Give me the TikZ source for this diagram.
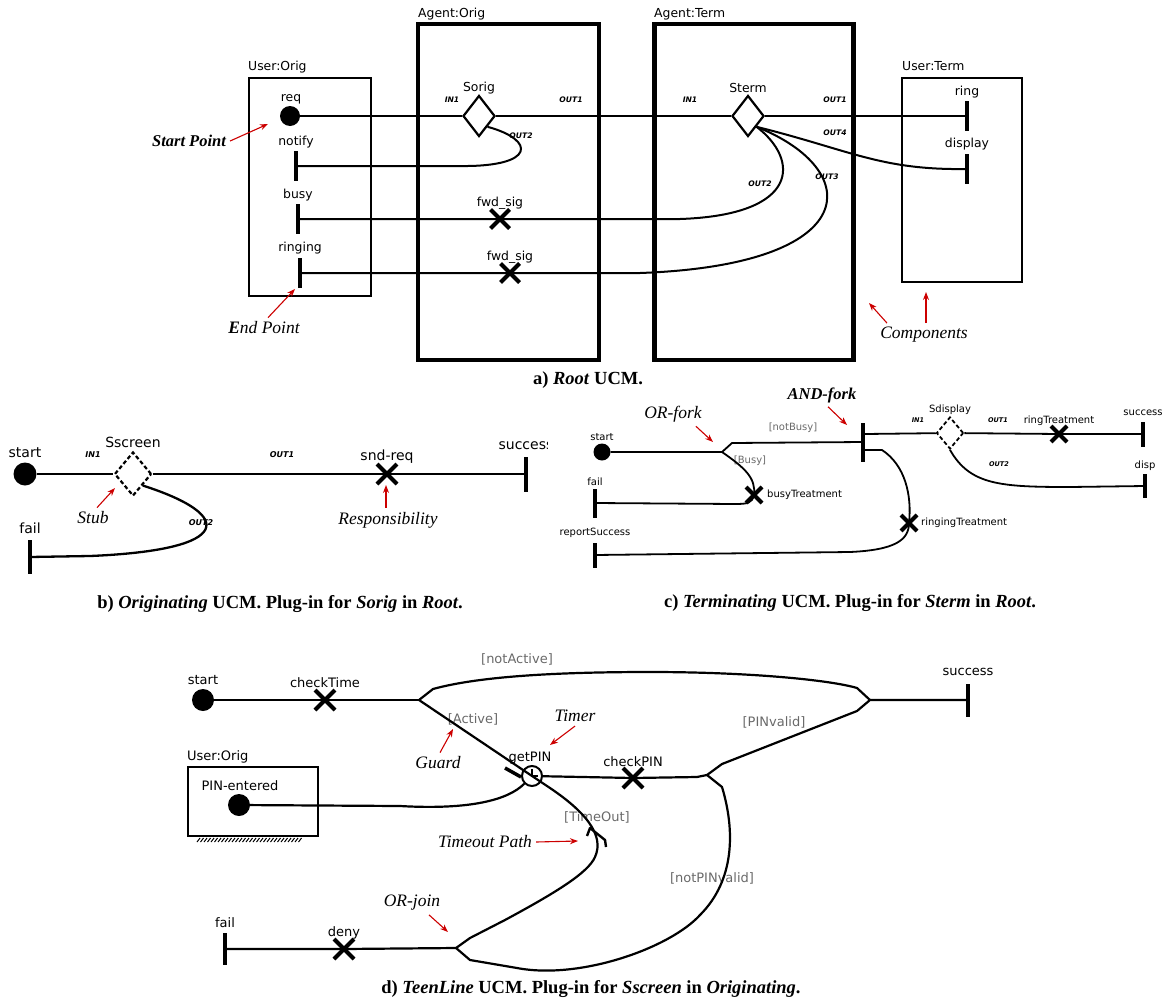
\documentclass[tikz,border=0pt]{standalone}
\usepackage{fontspec}
\setmainfont{Liberation Serif}
\setsansfont{DejaVu Sans}
\usetikzlibrary{shapes.geometric, shapes.misc, arrows.meta}
\definecolor{annot}{RGB}{204,0,0}
\definecolor{guardgray}{RGB}{105,105,105}

\begin{document}
\begin{tikzpicture}[x=1pt, y=-1pt,
  ucm/.style={line width=#1, line join=round}, ucm/.default=2,
  startpt/.style={circle, fill=black, inner sep=0, minimum size=#1}, startpt/.default=20,
  endpt/.style={rectangle, fill=black, inner sep=0, minimum width=4, minimum height=#1}, endpt/.default=30,
  resp/.style={cross out, draw, line width=4, inner sep=0, minimum size=#1}, resp/.default=15,
  stub/.style={diamond, draw, fill=white, line width=2.2, inner sep=0, minimum width=32, minimum height=41},
  dynstub/.style={stub, dash pattern=on 4pt off 2.5pt},
  timer/.style={circle, draw, line width=2, inner sep=0, minimum size=20},
  agent/.style={draw, line width=4.5, inner sep=0},
  comp/.style={draw, line width=2, inner sep=0},
  lab/.style={font=\sffamily\fontsize{#1}{#1}\selectfont, inner sep=0}, lab/.default=12.4,
  port/.style={font=\sffamily\bfseries\itshape\fontsize{#1}{#1}\selectfont, inner sep=0}, port/.default=7.6,
  guard/.style={lab=#1, text=guardgray},
  note/.style={font=\itshape\fontsize{17.5}{17.5}\selectfont, inner sep=4},
  bnote/.style={font=\bfseries\itshape\fontsize{16.5}{16.5}\selectfont, inner sep=4},
  notearrow/.style={draw=annot, line width=1.1, -{Stealth[length=8pt, width=6pt]}},
  caption/.style={font=\bfseries\fontsize{18.5}{18.5}\selectfont, inner sep=0}]

  \useasboundingbox (0, 0) rectangle (1167, 1001);

  % a) Root
  \node[agent, minimum width=181, minimum height=336] (agorig) at (508.5, 192) {};
  \node[lab, anchor=base west] (agorignm) at (418, 17) {Agent:Orig};
  \node[agent, minimum width=199, minimum height=336] (agterm) at (754, 192) {};
  \node[lab, anchor=base west] (agtermnm) at (654, 17) {Agent:Term};
  \node[comp, minimum width=122, minimum height=218] (usorig) at (310, 187) {};
  \node[lab, anchor=base west] (usorignm) at (248, 70) {User:Orig};
  \node[comp, minimum width=120, minimum height=204] (usterm) at (962, 180) {};
  \node[lab, anchor=base west] (ustermnm) at (902, 70) {User:Term};

  \node[startpt] (req) at (290, 116) {};
  \node[lab] (reqnm) at (291, 99) {req};
  \node[stub] (sorig) at (479, 116) {};
  \node[lab] (sorignm) at (479, 88) {Sorig};
  \node[stub] (sterm) at (748, 116) {};
  \node[lab] (stermnm) at (748, 88) {Sterm};
  \node[endpt] (ring) at (967, 116) {};
  \node[lab] (ringnm) at (967, 92) {ring};
  \node[endpt] (display) at (967, 169) {};
  \node[lab] (displaynm) at (967, 144) {display};
  \node[endpt] (notify) at (296, 166) {};
  \node[lab] (notifynm) at (296, 142) {notify};
  \node[endpt] (busy) at (298, 219) {};
  \node[lab] (busynm) at (298, 195) {busy};
  \node[endpt] (ringing) at (300, 273) {};
  \node[lab] (ringingnm) at (300, 248) {ringing};
  \node[resp] (fwdbusy) at (500, 219) {};
  \node[lab] (fwdbusynm) at (500, 203) {fwd\_sig};
  \node[resp] (fwdring) at (510, 273) {};
  \node[lab] (fwdringnm) at (510, 257) {fwd\_sig};

  \node[port] (sorigin) at (452, 100) {IN1};
  \node[port] (sorigout1) at (571, 100) {OUT1};
  \node[port] (sorigout2) at (521, 136) {OUT2};
  \node[port] (stermin) at (690, 100) {IN1};
  \node[port] (stermout1) at (835, 100) {OUT1};
  \node[port] (stermout4) at (835, 133) {OUT4};
  \node[port] (stermout2) at (760, 184) {OUT2};
  \node[port] (stermout3) at (827, 177) {OUT3};

  \draw[ucm] (req) -- (sorig);
  \draw[ucm] (sorig) -- (sterm);
  \draw[ucm] (sterm) -- (ring);
  \draw[ucm] (sorig.south east) .. controls (536, 140) and (536, 167) .. (460, 166) -- (notify);
  \draw[ucm] (sterm.south east) .. controls (800, 160) and (800, 215) .. (680, 219) -- (fwdbusy.center) -- (busy);
  \draw[ucm] (sterm.south east) .. controls (865, 170) and (865, 265) .. (640, 273) -- (fwdring.center) -- (ringing);
  \draw[ucm] (sterm.south east) .. controls (850, 150) and (880, 170) .. (display);

  \node[bnote] (startnote) at (189, 141) {Start Point};
  \coordinate (startpin) at (268, 124);
  \draw[notearrow] (startnote.east) -- (startpin);
  \node[note] (endnote) at (264, 328) {{\bfseries E}nd Point};
  \coordinate (endpin) at (295, 289);
  \draw[notearrow] ([xshift=4]endnote.north) -- (endpin);
  \node[note] (compnote) at (924, 335) {Components};
  \coordinate (agentpin) at (869, 303);
  \coordinate (userpin) at (926, 292);
  \draw[notearrow] ([xshift=11]compnote.north west) -- (agentpin);
  \draw[notearrow] ([xshift=2]compnote.north) -- (userpin);

  \node[caption] (capa) at (588, 380) {a) \textit{Root} UCM.};

  % b) Originating
  \node[startpt=23] (bstart) at (25, 474) {};
  \node[lab=14] (bstartnm) at (25, 453) {start};
  \node[dynstub, minimum width=37, minimum height=44] (sscreen) at (133, 474) {};
  \node[lab=14] (sscreennm) at (133, 442) {Sscreen};
  \node[resp=16] (sndreq) at (387, 474) {};
  \node[lab=14] (sndreqnm) at (387, 457) {snd-req};
  \node[endpt=35] (bsucc) at (526, 474) {};
  \begin{scope}
    \clip (480, 430) rectangle (547, 465);
    \node[lab=14] (bsuccnm) at (526, 446) {success};
  \end{scope}
  \node[endpt=34] (bfail) at (30, 557) {};
  \node[lab=14] (bfailnm) at (30, 528) {fail};
  \node[port=8] (sscreenin) at (93, 455) {IN1};
  \node[port=8] (sscreenout1) at (282, 455) {OUT1};
  \node[port=8] (sscreenout2) at (201, 523) {OUT2};

  \draw[ucm=2.3] (bstart) -- (sscreen);
  \draw[ucm=2.3] (sscreen) -- (sndreq.center) -- (bsucc);
  \draw[ucm=2.3] (sscreen.south east) .. controls (235, 515) and (235, 550) .. (90, 556) -- (bfail);

  \node[note] (stubnote) at (93, 518) {Stub};
  \coordinate (stubpin) at (115, 488);
  \draw[notearrow] ([xshift=4]stubnote.north) -- (stubpin);
  \node[note] (respnote) at (388, 520) {Responsibility};
  \coordinate (resppin) at (386, 485);
  \draw[notearrow] ([xshift=-2]respnote.north) -- (resppin);

  \node[caption] (capb) at (280, 604) {b) \textit{Originating} UCM. Plug-in for \textit{Sorig} in \textit{Root}.};

  % c) Terminating
  \node[startpt=17] (cstart) at (602, 452) {};
  \node[lab=10] (cstartnm) at (602, 437) {start};
  \coordinate (orfork) at (722, 452);
  \node[endpt=39] (andfork) at (863, 442) {};
  \node[guard=10] (notbusy) at (793, 428) {[notBusy]};
  \node[guard=10] (busyguard) at (750, 461) {[Busy]};
  \node[resp=12] (busytr) at (754, 495) {};
  \node[lab=10, anchor=west] (busytrnm) at (767, 495) {busyTreatment};
  \node[endpt=29] (cfail) at (595, 503) {};
  \node[lab=10] (cfailnm) at (595, 482) {fail};
  \node[endpt=25] (report) at (595, 555) {};
  \node[lab=10] (reportnm) at (595, 533) {reportSuccess};
  \node[resp=12] (ringingtr) at (909, 523) {};
  \node[lab=10, anchor=west] (ringingtrnm) at (921, 523) {ringingTreatment};
  \node[dynstub, line width=1.8, minimum width=27, minimum height=32] (sdisplay) at (950, 433) {};
  \node[lab=10] (sdisplaynm) at (950, 410) {Sdisplay};
  \node[resp=12] (ringtr) at (1059, 434) {};
  \node[lab=10] (ringtrnm) at (1059, 421) {ringTreatment};
  \node[endpt=25] (csucc) at (1143, 434) {};
  \node[lab=10] (csuccnm) at (1143, 413) {success};
  \node[endpt=24] (cdisp) at (1145, 486) {};
  \node[lab=10] (cdispnm) at (1145, 466) {disp};
  \node[port=6.5] (sdisplayin) at (918, 420) {IN1};
  \node[port=6.5] (sdisplayout1) at (998, 420) {OUT1};
  \node[port=6.5] (sdisplayout2) at (999, 464) {OUT2};

  \draw[ucm=1.8] (cstart) -- (orfork) -- (732, 443) -- (andfork);
  \draw[ucm=1.8] (orfork) .. controls (745, 468) and (756, 478) .. (busytr.center) .. controls (752, 503) and (748, 504) .. (735, 504) -- (cfail);
  \draw[ucm=1.8] ([yshift=-8]andfork.east) -- (882, 450) .. controls (905, 465) and (912, 495) .. (ringingtr.center) .. controls (909, 540) and (895, 550) .. (850, 552) -- (report);
  \draw[ucm=1.8] ([yshift=8]andfork.east) -- (sdisplay);
  \draw[ucm=1.8] (sdisplay) -- (ringtr.center) -- (csucc);
  \draw[ucm=1.8] (sdisplay.south) .. controls (970, 485) and (1000, 487) .. (1070, 487) -- (cdisp);

  \node[note] (ornote) at (673, 414) {OR-fork};
  \coordinate (orpin) at (713, 442);
  \draw[notearrow] ([xshift=-10]ornote.south east) -- (orpin);
  \node[bnote] (andnote) at (822, 395) {AND-fork};
  \coordinate (andpin) at (847, 425);
  \draw[notearrow] ([xshift=6]andnote.south) -- (andpin);

  \node[caption] (capc) at (850, 603) {c) \textit{Terminating} UCM. Plug-in for \textit{Sterm} in \textit{Root}.};

  % d) TeenLine
  \node[startpt=22] (dstart) at (203, 700) {};
  \node[lab=13] (dstartnm) at (203, 680) {start};
  \node[resp=16] (checktime) at (325, 700) {};
  \node[lab=13] (checktimenm) at (325, 683) {checkTime};
  \coordinate (dfork) at (419, 700);
  \coordinate (djoin) at (870, 700);
  \node[endpt=33] (dsucc) at (968, 700) {};
  \node[lab=13] (dsuccnm) at (968, 672) {success};
  \node[guard=13] (notactive) at (517, 659) {[notActive]};
  \node[guard=13] (active) at (473, 719) {[Active]};
  \node[timer] (getpin) at (532, 776) {};
  \node[lab=13] (getpinnm) at (530, 758) {getPIN};
  \node[resp=16] (checkpin) at (633, 778) {};
  \node[lab=13] (checkpinnm) at (633, 762) {checkPIN};
  \coordinate (pinfork) at (707, 775);
  \node[guard=13] (pinvalid) at (774, 722) {[PINvalid]};
  \node[guard=13] (notpinvalid) at (712, 878) {[notPINvalid]};
  \node[guard=13] (timeout) at (597, 817) {[TimeOut]};
  \node[comp, minimum width=130, minimum height=69] (usorigd) at (253, 801.5) {};
  \node[lab=13, anchor=base west] (usorigdnm) at (187, 760) {User:Orig};
  \node[startpt=22] (pinentered) at (239, 805) {};
  \node[lab=13] (pinenterednm) at (240, 786) {PIN-entered};
  \node[endpt=32] (dfail) at (225, 949) {};
  \node[lab=13] (dfailnm) at (225, 923) {fail};
  \node[resp=16] (deny) at (344, 949) {};
  \node[lab=13] (denynm) at (344, 933) {deny};
  \coordinate (orjoin) at (456, 948);

  \foreach \x in {197, 200.5, ..., 300}
    \draw[line width=1] (\x, 842) -- (\x+3, 838);

  \draw[ucm=2.2] (dstart) -- (checktime.center) -- (dfork);
  \draw[ucm=2.2] (dfork) -- (433, 689) .. controls (480, 676) and (560, 672) .. (650, 672) .. controls (750, 672) and (830, 680) .. (857, 688) -- (djoin);
  \draw[ucm=2.2] (dfork) -- (getpin.center) -- (547, 786) .. controls (585, 811) and (605, 835) .. (595, 857) .. controls (588, 873) and (555, 893) .. (505, 920) -- (470, 938) -- (orjoin);
  \draw[ucm=2.2] (getpin) -- (checkpin.center) -- (697, 777) -- (pinfork);
  \draw[ucm=2.2] (pinfork) -- (722, 764) -- (857, 711) -- (djoin) -- (dsucc);
  \draw[ucm=2.2] (pinfork) -- (722, 787) .. controls (735, 830) and (735, 880) .. (700, 915) .. controls (670, 948) and (580, 980) .. (517, 968) -- (470, 960) -- (orjoin);
  \draw[ucm=2.2] (pinentered) -- (400, 806) .. controls (470, 810) and (508, 800) .. (getpin);
  \draw[ucm=2.2] (dfail) -- (deny.center) -- (orjoin);

  \draw[line width=1.5] ([yshift=7]getpin.center) -- (getpin.center) -- ([xshift=6]getpin.center);
  \draw[line width=3.5] ([shift={(-27, -8)}]getpin.center) -- ([shift={(-11, 1)}]getpin.center);
  \draw[ucm=2.4] (587, 836) -- (590, 828) -- (605, 840) -- (606, 847);

  \node[note] (guardnote) at (438, 763) {Guard};
  \coordinate (guardpin) at (453, 729);
  \draw[notearrow] ([xshift=2]guardnote.north) -- (guardpin);
  \node[note] (timernote) at (575, 716) {Timer};
  \coordinate (timerpin) at (550, 745);
  \draw[notearrow] (timernote.south) -- (timerpin);
  \node[note] (tpathnote) at (485, 842) {Timeout Path};
  \coordinate (tpathpin) at (578, 841);
  \draw[notearrow] (tpathnote.east) -- (tpathpin);
  \node[note] (orjnote) at (412, 903) {OR-join};
  \coordinate (orjpin) at (448, 932);
  \draw[notearrow] ([xshift=17]orjnote.south) -- (orjpin);

  \node[caption] (capd) at (591, 989) {d) \textit{TeenLine} UCM. Plug-in for \textit{Sscreen} in \textit{Originating}.};

\end{tikzpicture}
\end{document}
